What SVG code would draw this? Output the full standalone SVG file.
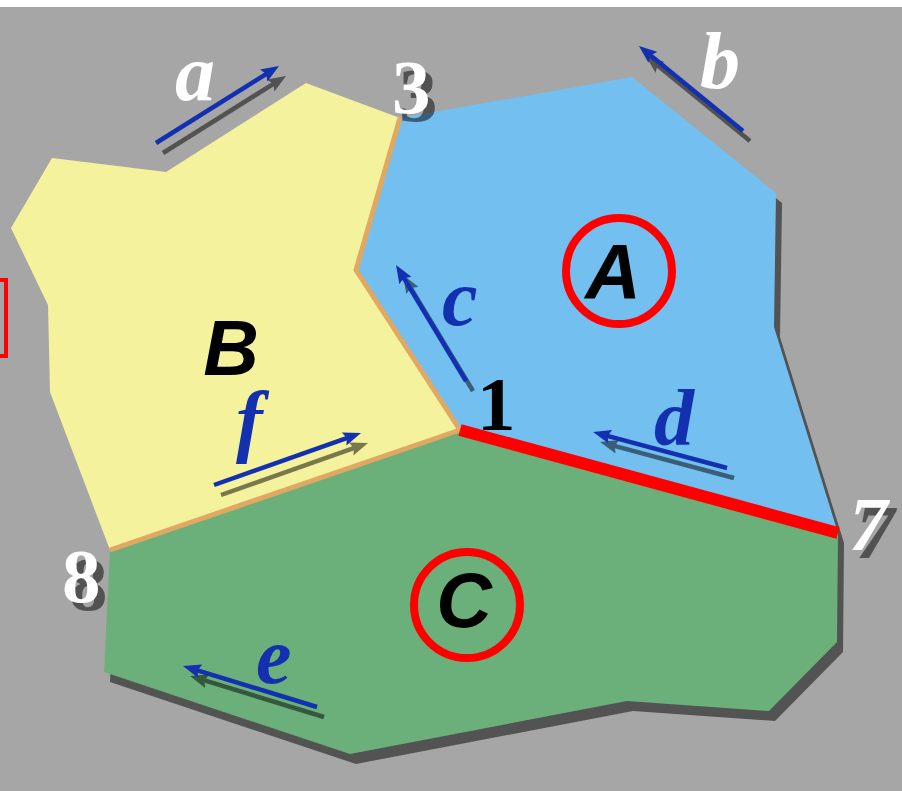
<svg xmlns="http://www.w3.org/2000/svg" width="902" height="791" viewBox="0 0 902 791">
<defs>
<style>
.vec{fill:none;stroke:#1230b0;stroke-width:4.5;marker-end:url(#hb)}
.vsh{fill:none;stroke:#000;stroke-width:4.5;marker-end:url(#hk)}
.lbl{font-family:"Liberation Serif","Times New Roman",serif;font-weight:bold;font-style:italic;font-size:80px}
.num{font-family:"Liberation Serif","Times New Roman",serif;font-weight:bold;font-size:77px}
.reg{font-family:"Liberation Sans",Arial,sans-serif;font-weight:bold;font-style:italic;font-size:77px;fill:#000;text-anchor:middle}
.edge{fill:none;stroke:#e0a862;stroke-width:5;stroke-linejoin:round}
</style>
<marker id="hb" viewBox="0 0 18 14" refX="8" refY="7" markerWidth="18" markerHeight="14" markerUnits="userSpaceOnUse" orient="auto"><path d="M0,0 L18,7 L0,14 L3,7 Z" fill="#1230b0"/></marker>
<marker id="hk" viewBox="0 0 18 14" refX="8" refY="7" markerWidth="18" markerHeight="14" markerUnits="userSpaceOnUse" orient="auto"><path d="M0,0 L18,7 L0,14 L3,7 Z" fill="#000"/></marker>
</defs>
<rect x="0" y="0" width="902" height="791" fill="#ffffff"/>
<rect x="0" y="7" width="902" height="784" fill="#a6a6a6"/>
<rect x="-20" y="280" width="26" height="76" fill="none" stroke="#ff0000" stroke-width="4"/>
<polygon transform="translate(6,10)" fill="#000" opacity="0.5" points="11,228 52,158 166,172 306,83 400,118 632,77 776,193 774,327 838,533 837,642 769,711 627,701 350,754 104,672 110,550 50,392 48,305"/>
<g id="B"><polygon fill="#f5f29d" points="11,228 52,158 166,172 306,83 400,118 356,270 460,430 110,550 50,392 48,305"/></g>
<g id="A"><polygon fill="#73bff0" points="400,118 632,77 776,193 774,327 838,533 460,430 356,270"/></g>
<g id="C"><polygon fill="#6bb07a" points="460,430 838,533 837,642 769,711 627,701 350,754 104,672 110,550"/></g>
<g id="edges">
<polyline class="edge" points="400,118 356,270 460,430 110,550"/>
<line x1="460" y1="430" x2="838" y2="533" stroke="#ff0000" stroke-width="12"/>
</g>
<g id="vectors">
<g transform="translate(7,10)" opacity="0.5">
<path class="vsh" d="M156,143 L270.5,71.3"/>
<path class="vsh" d="M743,131 L646.7,52.3"/>
<path class="vsh" d="M466,381 L401.2,273.6"/>
<path class="vsh" d="M727,468 L602.7,434.6"/>
<path class="vsh" d="M317,707 L192.6,668.9"/>
<path class="vsh" d="M214,485 L351.6,436.3"/>
</g>
<path class="vec" d="M156,143 L270.5,71.3"/>
<path class="vec" d="M743,131 L646.7,52.3"/>
<path class="vec" d="M466,381 L401.2,273.6"/>
<path class="vec" d="M727,468 L602.7,434.6"/>
<path class="vec" d="M317,707 L192.6,668.9"/>
<path class="vec" d="M214,485 L351.6,436.3"/>
</g>
<g id="vector-labels">
<text class="lbl" x="175" y="100" fill="#ffffff">a</text>
<text class="lbl" x="700" y="88" fill="#ffffff">b</text>
<text class="lbl" x="442" y="325" fill="#1230b0">c</text>
<text class="lbl" x="654" y="445" fill="#1230b0">d</text>
<text class="lbl" x="256" y="683" fill="#1230b0">e</text>
<text class="lbl" x="236" y="447" fill="#1230b0">f</text>
</g>
<g id="vertices">
<g opacity="0.5" fill="#000">
<text class="num" x="399" y="121">3</text>
<text class="num" x="69" y="610">8</text>
<text class="num" x="856" y="558" font-style="italic">7</text>
</g>
<text class="num" x="392" y="113" fill="#ffffff">3</text>
<text class="num" x="62" y="602" fill="#ffffff">8</text>
<text class="num" x="849" y="550" font-style="italic" fill="#ffffff">7</text>
<text class="num" x="477" y="430" fill="#000">1</text>
</g>
<g id="region-A">
<circle cx="619" cy="271" r="53" fill="none" stroke="#ff0000" stroke-width="8"/>
<text class="reg" x="613" y="299">A</text>
</g>
<g id="region-B">
<text class="reg" x="231" y="375">B</text>
</g>
<g id="region-C">
<circle cx="467" cy="605" r="53" fill="none" stroke="#ff0000" stroke-width="8"/>
<text class="reg" x="464" y="627">C</text>
</g>
</svg>
